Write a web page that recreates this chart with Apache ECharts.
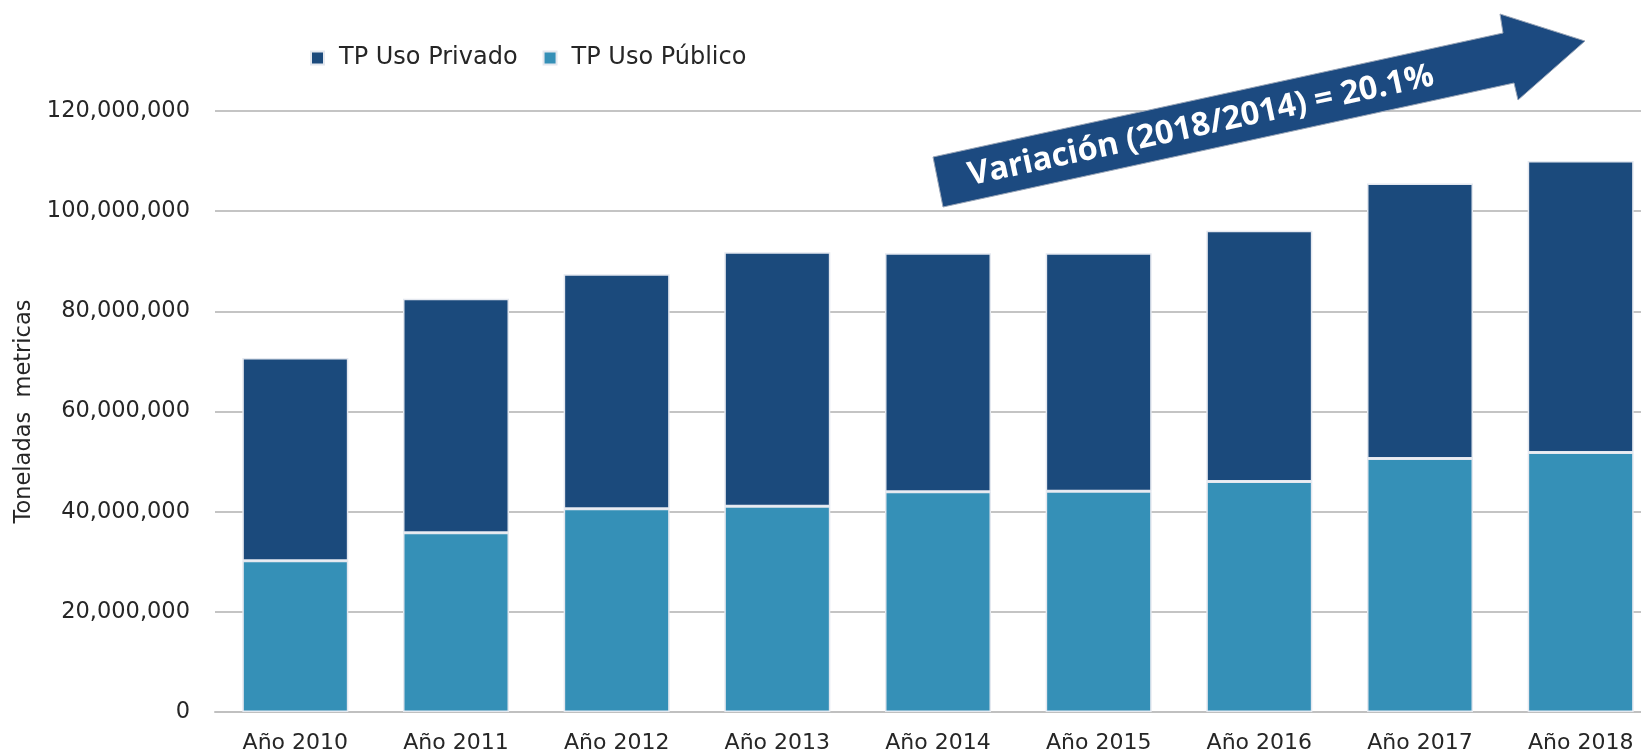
<!DOCTYPE html>
<html>
<head>
<meta charset="utf-8">
<script src="https://cdn.jsdelivr.net/npm/echarts@6/dist/echarts.min.js"></script>
<style>
  html, body { margin: 0; padding: 0; background: #ffffff; }
  #chart { width: 1641px; height: 753px; }
</style>
</head>
<body>
<div id="chart"></div>
<script>
const categories = ['Año 2010', 'Año 2011', 'Año 2012', 'Año 2013', 'Año 2014', 'Año 2015', 'Año 2016', 'Año 2017', 'Año 2018'];
const usoPublico = [30200000, 35800000, 40600000, 41100000, 44000000, 44100000, 46000000, 50600000, 51800000];
const usoPrivado = [40500000, 46700000, 46800000, 50700000, 47600000, 47500000, 50100000, 54900000, 58200000];
const seriesNames = ['TP Uso Privado', 'TP Uso Público'];
const yAxisName = 'Toneladas  metricas';
const annotationText = 'Variación (2018/2014) = 20.1%';

const FONT = 'DejaVu Sans';
const chart = echarts.init(document.getElementById('chart'), null, { renderer: 'canvas' });

const angle = 12.2 * Math.PI / 180;

chart.setOption({
  animation: false,
  backgroundColor: '#ffffff',
  grid: { left: 215, width: 1446, top: 111, bottom: 41, containLabel: false, outerBoundsMode: 'none' },
  legend: {
    data: seriesNames,
    left: 305,
    top: 41,
    itemWidth: 13,
    itemHeight: 13,
    itemGap: 25,
    icon: 'rect',
    textStyle: { fontFamily: FONT, fontSize: 24, color: '#262626', padding: [0, 0, 0, 10] }
  },
  xAxis: {
    type: 'category',
    data: categories,
    axisLine: { show: true, lineStyle: { color: '#c0c0c0', width: 2 } },
    axisTick: { show: false },
    axisLabel: { fontFamily: FONT, fontSize: 22, color: '#262626', margin: 20 }
  },
  yAxis: {
    type: 'value',
    min: 0,
    max: 120000000,
    interval: 20000000,
    name: yAxisName,
    nameLocation: 'middle',
    nameGap: 179,
    nameTextStyle: { fontFamily: FONT, fontSize: 22.5, color: '#262626' },
    axisLine: { show: false },
    axisTick: { show: false },
    splitLine: { lineStyle: { color: '#c4c4c4', width: 2 } },
    axisLabel: {
      fontFamily: FONT, fontSize: 22.5, color: '#262626', margin: 25,
      formatter: v => v.toLocaleString('en-US')
    }
  },
  series: [
    {
      name: seriesNames[1],
      type: 'bar',
      stack: 'total',
      data: usoPublico,
      barWidth: 106,
      itemStyle: { color: '#3590b7', borderColor: '#e4e8ef', borderWidth: 1.5 }
    },
    {
      name: seriesNames[0],
      type: 'bar',
      stack: 'total',
      data: usoPrivado,
      barWidth: 106,
      itemStyle: { color: '#1b4a7c', borderColor: '#e4e8ef', borderWidth: 1.5 }
    }
  ],
  graphic: [
    {
      type: 'polygon',
      z: 100,
      shape: {
        points: [[933, 157], [1503, 33], [1500, 14], [1585, 41], [1518, 100], [1514, 83], [943, 207]]
      },
      style: { fill: '#1c4a80', stroke: '#9aa6b8', lineWidth: 1 }
    },
    {
      type: 'text',
      z: 101,
      x: 1201,
      y: 126,
      rotation: angle,
      style: {
        text: annotationText,
        x: 0, y: 0,
        align: 'center',
        verticalAlign: 'middle',
        fill: '#ffffff',
        font: 'bold 32.5px "Open Sans"'
      }
    }
  ]
});
</script>
</body>
</html>
